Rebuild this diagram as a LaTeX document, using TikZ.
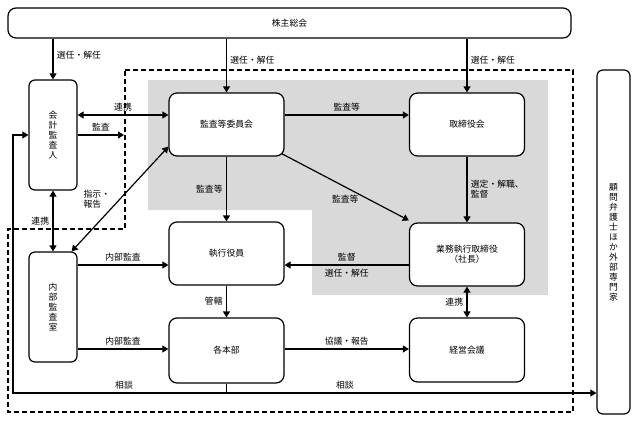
\documentclass[tikz,border=0pt]{standalone}
\usepackage{fontspec}
\setmainfont{Noto Sans CJK JP}
\usetikzlibrary{arrows.meta,positioning}

\begin{document}
\begin{tikzpicture}[x=1pt,y=-1pt,>={Triangle[width=7pt,length=6pt]},line width=1.2pt,
                    every node/.style={font=\fontsize{8.8}{10}\selectfont},
                    unit/.style={rectangle,draw,fill=white,rounded corners=8pt,inner sep=0pt,
                                 minimum width=115pt,minimum height=63pt,align=center},
                    tall unit/.style={unit,rounded corners=6pt,minimum width=48pt,minimum height=110pt},
                    area/.style={dashed,dash pattern=on 5pt off 3pt}]
  \useasboundingbox (0,0) rectangle (637,421);
  % shaded area and dashed frame
  \fill[gray!30] (148,80) -- (548,80) -- (548,295) -- (312,295) -- (312,210) -- (148,210) -- cycle;
  \draw[area] (125,70) -- (573,70) -- (573,412) -- (8,412) -- (8,229) -- (125,229) -- cycle;
  \coordinate (wakuL) at (124,135);
  \coordinate (sodanL) at (13,393);
  % boxes
  \node[unit,minimum width=563pt,minimum height=30pt] (soukai) at (289.5,23) {株主総会};
  \node[unit] (iinkai) at (226.5,124.5) {監査等委員会};
  \node[unit] (torishimari) [right of=iinkai,node distance=240.5pt] {取締役会};
  \node[unit] (shikko) [below of=iinkai,node distance=129pt] {執行役員};
  \node[unit,minimum height=65pt] (honbu) [below of=shikko,node distance=97pt] {各本部};
  \node[unit] (shacho) [below of=torishimari,node distance=130pt] {業務執行取締役\\（社長）};
  \node[unit,minimum height=64pt] (keiei) [below of=shacho,node distance=95.5pt] {経営会議};
  \node[tall unit] (kaikei) at (53,135) {会\\計\\監\\査\\人};
  \node[tall unit] (naibu) [below of=kaikei,node distance=172pt] {内\\部\\監\\査\\室};
  \node[tall unit,minimum width=33pt,minimum height=344pt] (senmon) at (613.5,242)
    {顧\\問\\弁\\護\\士\\ほ\\か\\外\\部\\専\\門\\家};
  % connectors
  \path[->]
    (soukai.south -| kaikei) edge node[right,pos=0.4] {選任・解任} (kaikei)
    (soukai.south -| iinkai) edge node[right,pos=0.4] {選任・解任} (iinkai)
    (soukai.south -| torishimari) edge node[right,pos=0.4] {選任・解任} (torishimari)
    ([yshift=9.5pt]iinkai.east) edge node[above] {監査等} ([yshift=9.5pt]torishimari.west)
    (kaikei.east) edge node[above] {監査} (wakuL)
    (iinkai) edge node[left] {監査等} (shikko)
    ([xshift=-3pt,yshift=3pt]iinkai.south east) edge node[below=4pt] {監査等} ([yshift=2pt]shacho.north west)
    (torishimari) edge node[right,align=left] {選定・解職、\\監督} (shacho)
    ([yshift=-10.5pt]shacho.west) edge node[above] {監督} node[below] {選任・解任} ([yshift=-11.5pt]shikko.east)
    ([yshift=-11.5pt]naibu.east |- shikko.west) edge node[above] {内部監査} ([yshift=-11.5pt]shikko.west)
    (shikko) edge node[left] {管轄} (honbu)
    ([yshift=1.5pt]naibu.east |- honbu.west) edge node[above] {内部監査} ([yshift=1.5pt]honbu.west)
    ([yshift=1.5pt]honbu.east) edge node[above] {協議・報告} ([yshift=1pt]keiei.west);
  \path[<->]
    ([yshift=9.5pt]kaikei.east |- iinkai.west) edge node[above] {連携} ([yshift=9.5pt]iinkai.west)
    (kaikei) edge node[left] {連携} (naibu)
    ([yshift=10pt]iinkai.south west) edge node[left=6pt,align=left] {指示・\\報告} ([xshift=-6pt]naibu.north east)
    (shacho) edge node[left] {連携} (keiei);
  \draw[->] (honbu.south) |- node[above,pos=0.74] {相談} (sodanL) |- (kaikei.west);
  \draw[->] (honbu.south) |- node[above,pos=0.66] {相談} (senmon.west |- sodanL);
\end{tikzpicture}
\end{document}
